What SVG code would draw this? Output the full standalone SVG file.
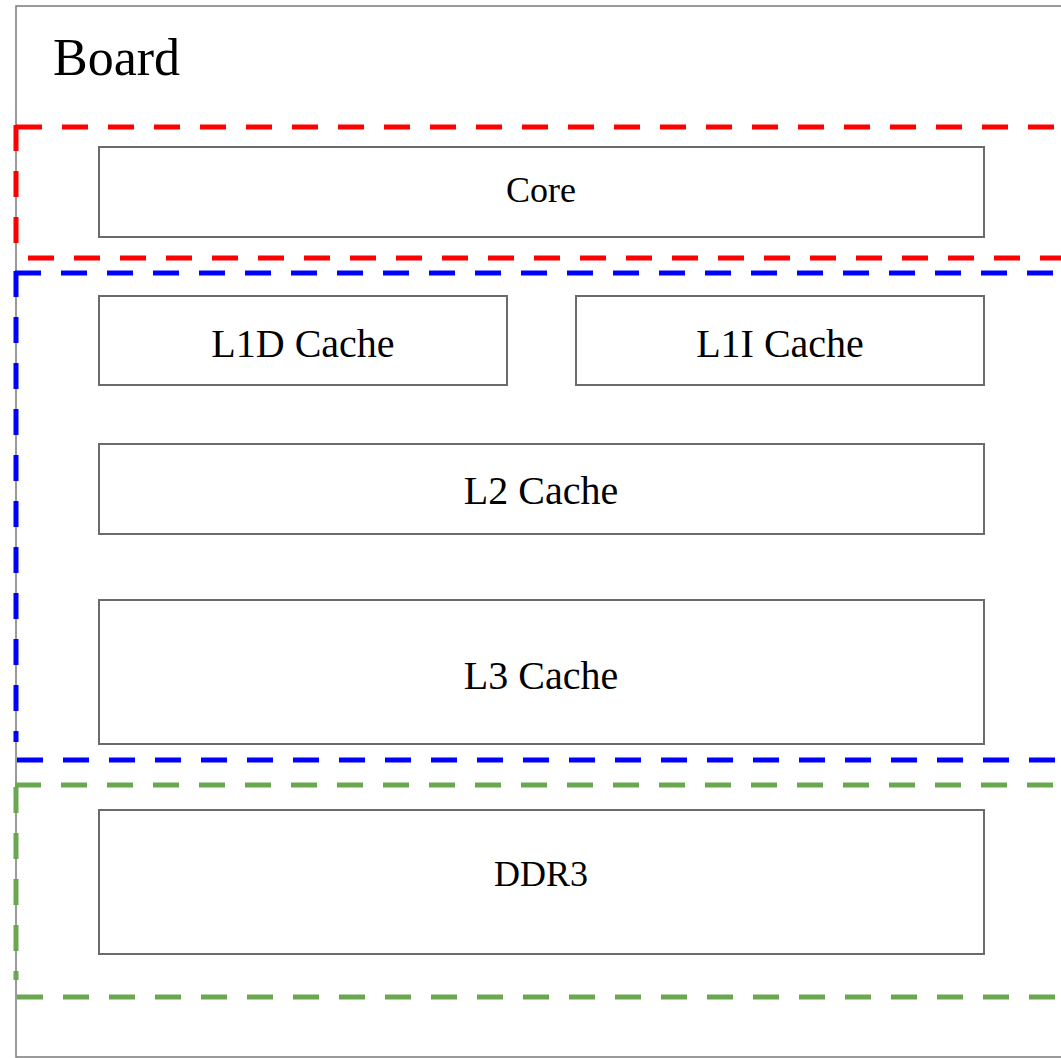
<svg xmlns="http://www.w3.org/2000/svg" width="1061" height="1058" viewBox="0 0 1061 1058">
<style>
.box{fill:#fff;stroke:#6b6b6b;stroke-width:2}
.lbl{font-family:"Liberation Serif","Times New Roman",serif;fill:#000;text-anchor:middle}
.d{fill:none;stroke-width:5;stroke-dasharray:26 20}
.r{stroke:#ff0000}.b{stroke:#0000ff}.g{stroke:#6aa84f}
</style>
<rect width="1061" height="1058" fill="#fff"/>
<g id="board">
<rect x="16" y="6" width="1080" height="1051" fill="none" stroke="#7a7a7a" stroke-width="1.5"/>
<text x="53" y="75" font-family="Liberation Serif, serif" font-size="52" fill="#000">Board</text>
</g>
<g id="groups">
<line class="d r" x1="16" y1="127" x2="1070" y2="127"/>
<line class="d r" x1="16" y1="125" x2="16" y2="252"/>
<line class="d r" x1="28" y1="258" x2="1070" y2="258"/>
<line class="d b" x1="15" y1="273" x2="1070" y2="273"/>
<line class="d b" x1="16" y1="271" x2="16" y2="742"/>
<line class="d b" x1="17" y1="760" x2="1070" y2="760"/>
<line class="d g" x1="15" y1="785" x2="1070" y2="785"/>
<line class="d g" x1="16" y1="787" x2="16" y2="980"/>
<line class="d g" x1="17" y1="997" x2="1070" y2="997"/>
</g>
<g id="core"><rect class="box" x="99" y="147" width="885" height="90"/><text class="lbl" x="541" y="202" font-size="36">Core</text></g>
<g id="l1d"><rect class="box" x="99" y="296" width="408" height="89"/><text class="lbl" x="303" y="357" font-size="40">L1D Cache</text></g>
<g id="l1i"><rect class="box" x="576" y="296" width="408" height="89"/><text class="lbl" x="780" y="357" font-size="40">L1I Cache</text></g>
<g id="l2"><rect class="box" x="99" y="444" width="885" height="90"/><text class="lbl" x="541" y="504" font-size="40">L2 Cache</text></g>
<g id="l3"><rect class="box" x="99" y="600" width="885" height="144"/><text class="lbl" x="541" y="689" font-size="40">L3 Cache</text></g>
<g id="ddr3"><rect class="box" x="99" y="810" width="885" height="144"/><text class="lbl" x="541" y="886" font-size="36">DDR3</text></g>
</svg>
